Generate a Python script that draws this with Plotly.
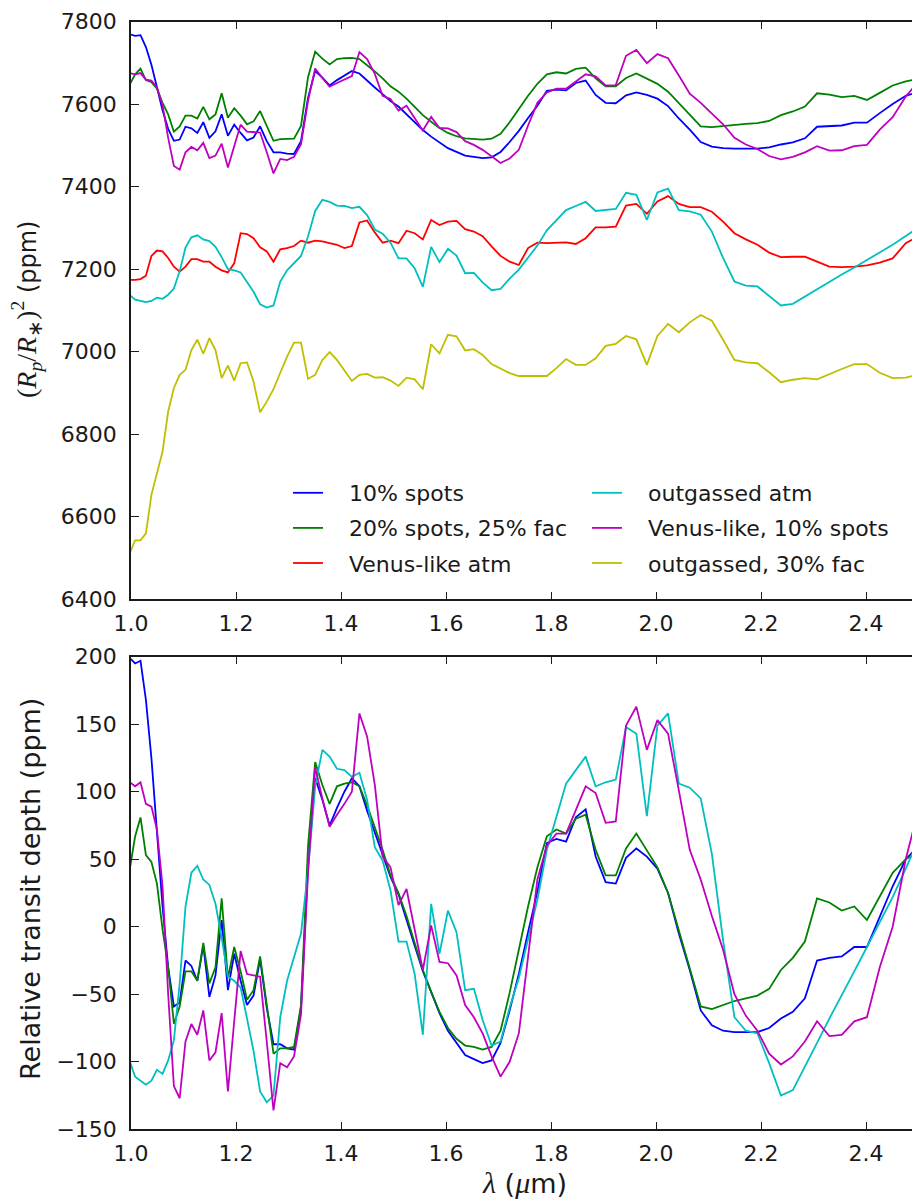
import plotly.graph_objects as go

# Wavelength sampling of the model spectra (micron), constant resolving power
wavelength_um = [
    0.9978, 1.0079, 1.0181, 1.0284, 1.0389, 1.0494, 1.0601, 1.0708, 1.0817, 1.0927,
    1.1038, 1.1150, 1.1263, 1.1377, 1.1493, 1.1609, 1.1727, 1.1846, 1.1966, 1.2088,
    1.2210, 1.2334, 1.2459, 1.2586, 1.2714, 1.2843, 1.2973, 1.3105, 1.3238, 1.3372,
    1.3508, 1.3645, 1.3783, 1.3923, 1.4065, 1.4207, 1.4351, 1.4497, 1.4644, 1.4793,
    1.4943, 1.5095, 1.5248, 1.5403, 1.5559, 1.5717, 1.5876, 1.6037, 1.6200, 1.6365,
    1.6531, 1.6698, 1.6868, 1.7039, 1.7212, 1.7387, 1.7563, 1.7741, 1.7921, 1.8103,
    1.8287, 1.8473, 1.8660, 1.8850, 1.9041, 1.9234, 1.9429, 1.9626, 1.9826, 2.0027,
    2.0230, 2.0435, 2.0643, 2.0852, 2.1064, 2.1278, 2.1494, 2.1712, 2.1932, 2.2155,
    2.2379, 2.2606, 2.2836, 2.3068, 2.3302, 2.3538, 2.3777, 2.4018, 2.4262, 2.4508,
    2.4757, 2.5008,
]

# Relative transit depth (ppm) of the four spectra shown in the lower panel
rel_10spots = [
    199, 195, 197, 168, 125, 72, 15, -30, -59, -56,
    -25, -29, -40, -14, -52, -36, 5, -47, -20, -40,
    -58, -51, -24, -60, -87, -87, -90, -91, -60, 45,
    110, 94, 75, 88, 100, 110, 104, 86, 70, 54,
    37, 24, 6, -14, -33, -49, -64, -77, -86, -95,
    -98, -101, -99, -86, -62, -35, -4, 26, 62, 65,
    63, 81, 87, 52, 33, 32, 51, 58, 52, 43,
    25, -5, -32, -62, -73, -77, -78, -78, -78, -75,
    -68, -63, -53, -25, -23, -22, -15, -15, 8, 30,
    50, 60,
]
rel_20spots_25fac = [
    43, 67, 81, 53, 48, 32, -2, -30, -72, -59,
    -33, -33, -40, -12, -42, -30, 21, -38, -15, -33,
    -54, -47, -22, -58, -94, -90, -90, -89, -58, 60,
    122, 105, 91, 104, 106, 107, 104, 90, 74, 57,
    38, 25, 8, -12, -32, -48, -63, -75, -83, -88,
    -89, -91, -89, -77, -49, -17, 15, 44, 67, 72,
    69, 80, 83, 57, 38, 38, 58, 69, 57, 44,
    25, -3, -32, -59, -61, -58, -55, -53, -51, -46,
    -32, -23, -11, 21, 18, 12, 15, 5, 22, 40,
    50, 56,
]
rel_venus_10spots = [
    107, 104, 107, 91, 89, 72, 30, -50, -118, -127,
    -85, -72, -80, -62, -99, -93, -64, -122, -70, -18,
    -35, -36, -37, -85, -136, -101, -104, -96, -65, 40,
    118, 95, 74, 83, 91, 100, 158, 141, 105, 52,
    44, 16, 28, -2, -32, 1, -26, -27, -36, -58,
    -67, -79, -96, -111, -100, -79, -20, 35, 60, 69,
    69, 87, 104, 99, 77, 78, 149, 163, 131, 153,
    143, 101, 57, 35, 8, -17, -50, -66, -77, -94,
    -102, -96, -85, -70, -81, -80, -70, -67, -30, 0,
    50, 88,
]
rel_outgassed = [
    -100, -111, -114, -117, -114, -106, -109, -99, -84, -42,
    15, 40, 45, 35, 31, 17, -8, -37, -40, -45,
    -68, -92, -122, -130, -125, -67, -40, -22, -5, 42,
    104, 131, 126, 117, 116, 111, 114, 94, 59, 49,
    27, -11, -11, -35, -80, 17, -20, 12, -4, -47,
    -46, -69, -88, -85, -60, -38, -10, 20, 57, 81,
    106, 116, 126, 104, 107, 109, 148, 143, 82, 149,
    158, 106, 103, 95, 54, -10, -67, -77, -79, -101,
    -125, -121, -103, -86, -68, -50, -33, -15, 3, 22,
    43, 65,
]

# Reference (mean) transit depth of those four spectra, ppm
ref_10spots = 7570
ref_20spots_25fac = 7605
ref_venus_10spots = 7568
ref_outgassed = 7237

# Absolute transit depth (ppm) of the two spectra shown only in the upper panel
depth_venus_atm = [
    7174, 7174, 7176, 7184, 7232, 7245, 7243, 7227, 7206, 7194,
    7206, 7224, 7224, 7218, 7218, 7206, 7197, 7192, 7214, 7287,
    7285, 7275, 7253, 7243, 7218, 7248, 7251, 7256, 7269, 7264,
    7269, 7267, 7263, 7259, 7251, 7256, 7313, 7318, 7289, 7264,
    7269, 7263, 7293, 7287, 7272, 7319, 7307, 7315, 7317, 7297,
    7291, 7280, 7255, 7232, 7218, 7210, 7251, 7264, 7263, 7264,
    7265, 7261, 7275, 7301, 7301, 7303, 7354, 7358, 7334, 7364,
    7377, 7358, 7350, 7350, 7339, 7315, 7287, 7272, 7259, 7240,
    7229, 7230, 7230, 7218, 7206, 7205, 7206, 7209, 7216, 7226,
    7263, 7280,
]
depth_outgassed_30fac = [
    6512, 6543, 6543, 6560, 6653, 6706, 6758, 6855, 6912, 6944,
    6956, 7004, 7029, 6995, 7033, 7004, 6936, 6966, 6930, 6972,
    6974, 6928, 6853, 6879, 6909, 6949, 6988, 7022, 7022, 6934,
    6944, 6980, 6999, 6980, 6956, 6929, 6944, 6946, 6937, 6938,
    6930, 6917, 6937, 6933, 6909, 7018, 6996, 7041, 7037, 7003,
    7006, 6992, 6970, 6960, 6948, 6941, 6941, 6941, 6941, 6960,
    6982, 6968, 6968, 6984, 7014, 7019, 7038, 7030, 6968, 7038,
    7067, 7047, 7071, 7089, 7075, 7029, 6980, 6974, 6972, 6950,
    6926, 6932, 6936, 6933, 6946, 6958, 6970, 6970, 6949, 6936,
    6937, 6945,
]

labels = [
    "10% spots",
    "20% spots, 25% fac",
    "Venus-like atm",
    "outgassed atm",
    "Venus-like, 10% spots",
    "outgassed, 30% fac",
]
colors = ["#0000ff", "#008000", "#ff0000", "#00bfbf", "#bf00bf", "#bfbf00"]

x_ticks = [1.0, 1.2, 1.4, 1.6, 1.8, 2.0, 2.2, 2.4]
top_y_ticks = [6400, 6600, 6800, 7000, 7200, 7400, 7600, 7800]
bottom_y_ticks = [-150, -100, -50, 0, 50, 100, 150, 200]

FONT = "DejaVu Sans"
SERIF = "Liberation Serif"
INK = "#1a1a1a"
LW = 1.8
PAD = "\u00a0\u00a0\u00a0"


def absolute(rel, ref):
    return [ref + v for v in rel]


top_series = [
    absolute(rel_10spots, ref_10spots),
    absolute(rel_20spots_25fac, ref_20spots_25fac),
    depth_venus_atm,
    absolute(rel_outgassed, ref_outgassed),
    absolute(rel_venus_10spots, ref_venus_10spots),
    depth_outgassed_30fac,
]

fig = go.Figure()

for idx, (name, color, ys) in enumerate(zip(labels, colors, top_series)):
    fig.add_trace(go.Scatter(
        x=wavelength_um, y=ys, mode="lines", name=PAD + name,
        line=dict(color=color, width=LW),
        xaxis="x", yaxis="y",
        legend="legend" if idx < 3 else "legend2",
        legendgroup=f"g{idx}",
    ))

bottom_series = [
    (rel_10spots, colors[0]),
    (rel_20spots_25fac, colors[1]),
    (rel_outgassed, colors[3]),
    (rel_venus_10spots, colors[4]),
]
for ys, color in bottom_series:
    fig.add_trace(go.Scatter(
        x=wavelength_um, y=ys, mode="lines", showlegend=False,
        line=dict(color=color, width=LW),
        xaxis="x2", yaxis="y2",
    ))

W, H = 912, 1199
LEFT = 131
PLOT_W = W - LEFT
PX_PER_UM = 525.0
x_range = [1.0, 1.0 + PLOT_W / PX_PER_UM]


def py(pixel_y):
    return 1 - pixel_y / H


def px(pixel_x):
    return (pixel_x - LEFT) / PLOT_W


axis_common = dict(
    showline=True, linecolor=INK, linewidth=1.5,
    ticks="inside", ticklen=8, tickwidth=1.2, tickcolor=INK,
    showgrid=False, zeroline=False,
    tickfont=dict(family=FONT, size=22, color=INK),
)

legend_common = dict(
    xanchor="left", yanchor="top",
    bgcolor="rgba(0,0,0,0)", borderwidth=0,
    tracegroupgap=3.5, traceorder="grouped",
    font=dict(family=FONT, size=22, color=INK),
)

fig.update_layout(
    width=W, height=H,
    margin=dict(l=LEFT, r=0, t=0, b=0),
    paper_bgcolor="white", plot_bgcolor="white",
    template="none",
    font=dict(family=FONT, size=22, color=INK),
    xaxis=dict(domain=[0, 1], range=x_range, anchor="y", mirror="ticks",
               tickvals=x_ticks, ticktext=[f"{v:.1f}" for v in x_ticks],
               ticklabelstandoff=4, **axis_common),
    yaxis=dict(domain=[py(599.3), py(21.5)], range=[6400, 7800], anchor="x",
               tickvals=top_y_ticks, mirror=False,
               ticklabelstandoff=8, **axis_common),
    xaxis2=dict(domain=[0, 1], range=x_range, anchor="y2", mirror="ticks",
                tickvals=x_ticks, ticktext=[f"{v:.1f}" for v in x_ticks],
                ticklabelstandoff=4, **axis_common),
    yaxis2=dict(domain=[py(1129.3), py(656.7)], range=[-150, 200], anchor="x2",
                tickvals=bottom_y_ticks, mirror=False,
                ticklabelstandoff=8, **axis_common),
    legend=dict(x=px(288), y=py(472), **legend_common),
    legend2=dict(x=px(587), y=py(472), **legend_common),
)

top_ylabel = (
    f'<span style="font-family:{SERIF};font-size:28px">(<i>R</i><sub><i>p</i></sub>/'
    f'<i>R</i><sub>∗</sub>)<sup>2</sup></span> (ppm)'
)
x_label = (
    f'<span style="font-family:{SERIF};font-size:30px"><i>λ</i></span> '
    f'(<span style="font-family:{SERIF};font-size:30px"><i>μ</i></span>m)'
)

fig.add_annotation(text=top_ylabel, xref="paper", yref="paper",
                   x=px(27), y=py(310), xanchor="center", yanchor="middle",
                   textangle=-90, showarrow=False,
                   font=dict(family=FONT, size=24, color=INK))
fig.add_annotation(text="Relative transit depth (ppm)", xref="paper", yref="paper",
                   x=px(30), y=py(889), xanchor="center", yanchor="middle",
                   textangle=-90, showarrow=False,
                   font=dict(family=FONT, size=27, color=INK))
fig.add_annotation(text=x_label, xref="paper", yref="paper",
                   x=px(524.5), y=py(1182), xanchor="center", yanchor="middle",
                   showarrow=False,
                   font=dict(family=FONT, size=27, color=INK))

fig.write_html("out.html")
